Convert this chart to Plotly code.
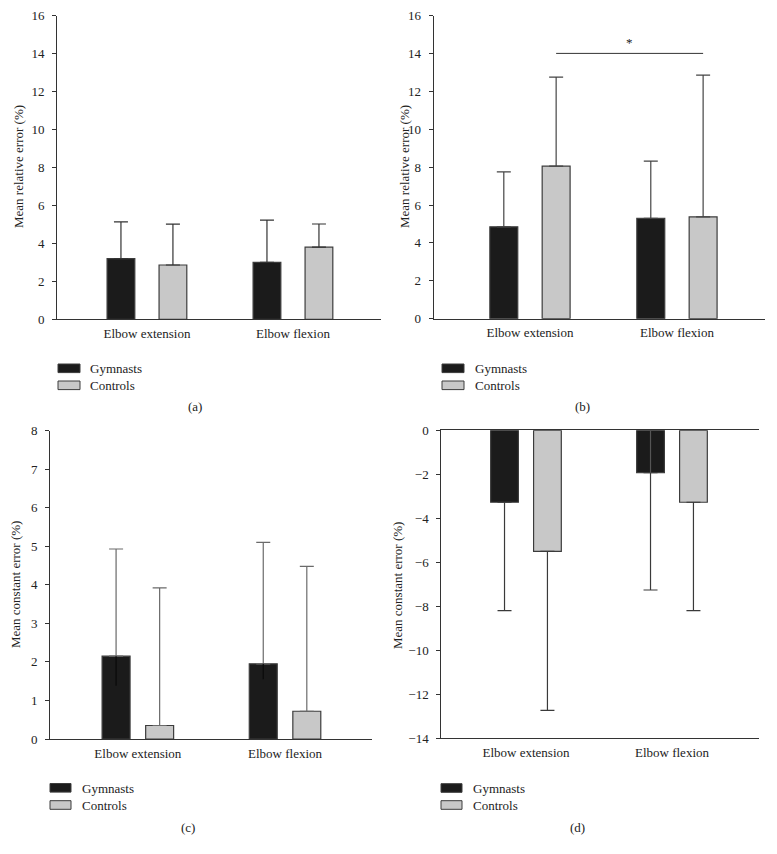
import plotly.graph_objects as go

W, H = 777, 854
OX, OY = 8, 8  # page body margin compensation

categories = ["Elbow extension", "Elbow flexion"]
groups = ["Gymnasts", "Controls"]

# (a) Mean relative error
a_gym = [3.2, 3.0]
a_gym_err = [1.93, 2.22]
a_ctl = [2.86, 3.8]
a_ctl_err = [2.15, 1.22]

# (b) Mean relative error
b_gym = [4.85, 5.3]
b_gym_err = [2.9, 3.02]
b_ctl = [8.05, 5.37]
b_ctl_err = [4.7, 7.48]
b_sig_y = 14.0

# (c) Mean constant error
c_gym = [2.15, 1.95]
c_gym_err = [2.78, 3.15]
c_gym_err_low = [0.77, 0.4]
c_ctl = [0.35, 0.72]
c_ctl_err = [3.57, 3.76]

# (d) Mean constant error
d_gym = [-3.27, -1.93]
d_gym_err = [4.93, 5.33]
d_gym_err_up = [0.0, 1.93]
d_ctl = [-5.5, -3.27]
d_ctl_err = [7.23, 4.93]

FONT = "Liberation Serif"
TXT = "#222222"
GYM_FILL = "#1b1b1b"
CTL_FILL = "#c8c8c8"
EDGE = "#3c3c3c"

def px(x):
    return (x - OX) / W

def py(y):
    return 1 - (y - OY) / H

fig = go.Figure()

panels = [
    dict(k="", xd=(57, 381), yd=(15.5, 319.3), xr=(-0.616, 1.603), yr=(0, 16), dt=2,
         gym=a_gym, gup=a_gym_err, glow=None, ctl=a_ctl, cup=a_ctl_err, clow=None,
         sep=0.178, ec="#333333", title="Mean relative error (%)", tx=18, ty=167,
         lab="(a)", lx=195, ly=407, sw=(58, 80), sy=(364, 381), txs=88),
    dict(k="2", xd=(433.7, 765), yd=(15.5, 318.7), xr=(-0.655, 1.599), yr=(0, 16), dt=2,
         gym=b_gym, gup=b_gym_err, glow=None, ctl=b_ctl, cup=b_ctl_err, clow=None,
         sep=0.178, ec="#444444", title="Mean relative error (%)", tx=404, ty=167,
         lab="(b)", lx=582, ly=407, sw=(442, 464), sy=(364, 381), txs=473),
    dict(k="3", xd=(50, 372.3), yd=(430.7, 739), xr=(-0.597, 1.593), yr=(0, 8), dt=1,
         gym=c_gym, gup=c_gym_err, glow=c_gym_err_low, ctl=c_ctl, cup=c_ctl_err, clow=None,
         sep=0.148, ec="#6a6a6a", title="Mean constant error (%)", tx=15, ty=585,
         lab="(c)", lx=188, ly=827, sw=(50, 71), sy=(783.5, 800.7), txs=80),
    dict(k="4", xd=(441.3, 759), yd=(430.3, 738.3), xr=(-0.58, 1.596), yr=(-14, 0), dt=2,
         gym=d_gym, gup=d_gym_err, glow=d_gym_err_up, ctl=d_ctl, cup=d_ctl_err, clow=None,
         sep=0.147, ec="#3a3a3a", title="Mean constant error (%)", tx=397, ty=585,
         lab="(d)", lx=577, ly=827, sw=(441, 462), sy=(783.7, 800.7), txs=471),
]

bw = 0.19
annotations = []
shapes = []
layout_axes = {}

for p in panels:
    k = p["k"]
    xa = "x" + k
    ya = "y" + k
    neg = p["yr"][1] <= 0
    for name, vals, up, low, fill, off in [
        ("Gymnasts", p["gym"], p["gup"], p["glow"], GYM_FILL, -p["sep"]),
        ("Controls", p["ctl"], p["cup"], p["clow"], CTL_FILL, p["sep"]),
    ]:
        if neg:
            err = dict(type="data", array=[0] * len(vals), arrayminus=up, symmetric=False,
                       color=p["ec"], thickness=1.2, width=7)
        else:
            err = dict(type="data", array=up, arrayminus=[0] * len(vals), symmetric=False,
                       color=p["ec"], thickness=1.2, width=7)
        fig.add_trace(go.Bar(
            x=categories, y=vals, name=name, width=bw, offset=off - bw / 2,
            marker=dict(color=fill, line=dict(color=EDGE, width=1.2)),
            error_y=err, xaxis=xa, yaxis=ya, showlegend=False,
        ))
        if low is not None:
            if neg:
                err2 = dict(type="data", array=low, arrayminus=[0] * len(vals), symmetric=False,
                            color="#555555", thickness=1.2, width=0)
            else:
                err2 = dict(type="data", array=[0] * len(vals), arrayminus=low, symmetric=False,
                            color="#0a0a0a", thickness=1.2, width=0)
            fig.add_trace(go.Bar(
                x=categories, y=vals, width=bw, offset=off - bw / 2,
                marker=dict(color="rgba(0,0,0,0)", line=dict(width=0)),
                error_y=err2, xaxis=xa, yaxis=ya, showlegend=False, hoverinfo="skip",
            ))

    layout_axes["xaxis" + k] = dict(
        domain=[px(p["xd"][0]), px(p["xd"][1])], anchor=ya, range=list(p["xr"]),
        type="category", categoryorder="array", categoryarray=categories,
        showline=True, linecolor="#333333", linewidth=1, ticks="", showgrid=False,
        zeroline=False, mirror=neg, tickfont=dict(family=FONT, size=13, color=TXT),
        ticklabelstandoff=2, automargin=False,
    )
    layout_axes["yaxis" + k] = dict(
        domain=[py(p["yd"][1]), py(p["yd"][0])], anchor=xa, range=list(p["yr"]),
        dtick=p["dt"], tick0=0, showline=True, linecolor="#333333", linewidth=1,
        ticks="outside", ticklen=4, tickcolor="#333333", showgrid=False, zeroline=False,
        tickfont=dict(family=FONT, size=13, color=TXT), ticklabelstandoff=5,
        automargin=False, ticklabeloverflow="allow",
    )

    annotations.append(dict(
        text=p["title"], x=px(p["tx"]), y=py(p["ty"]), xref="paper", yref="paper",
        textangle=-90, showarrow=False, xanchor="center", yanchor="middle",
        font=dict(family=FONT, size=13, color=TXT),
    ))
    annotations.append(dict(
        text=p["lab"], x=px(p["lx"]), y=py(p["ly"]), xref="paper", yref="paper",
        showarrow=False, xanchor="center", yanchor="middle",
        font=dict(family=FONT, size=13, color=TXT),
    ))
    for gi, (g, fill) in enumerate(zip(groups, [GYM_FILL, CTL_FILL])):
        y0 = p["sy"][gi]
        shapes.append(dict(
            type="rect", xref="paper", yref="paper",
            x0=px(p["sw"][0]), x1=px(p["sw"][1]), y0=py(y0 + 8.6), y1=py(y0),
            fillcolor=fill, line=dict(color=EDGE, width=1),
        ))
        annotations.append(dict(
            text=g, x=px(p["txs"]), y=py(y0 + 4.6), xref="paper", yref="paper",
            showarrow=False, xanchor="left", yanchor="middle",
            font=dict(family=FONT, size=13, color=TXT),
        ))

sep_b = panels[1]["sep"]
shapes.append(dict(
    type="line", xref="x2", yref="y2", x0=0 + sep_b, x1=1 + sep_b,
    y0=b_sig_y, y1=b_sig_y, line=dict(color="#333333", width=1),
))
annotations.append(dict(
    text="*", x=0.5 + sep_b, y=b_sig_y, xref="x2", yref="y2", showarrow=False,
    yanchor="bottom", yshift=1, font=dict(family=FONT, size=13, color=TXT),
))

fig.update_layout(
    template="none",
    width=W, height=H, margin=dict(l=0, r=0, t=0, b=0, autoexpand=False),
    paper_bgcolor="white", plot_bgcolor="white", barmode="overlay",
    showlegend=False, annotations=annotations, shapes=shapes,
    **layout_axes,
)

fig.write_html("out.html")
